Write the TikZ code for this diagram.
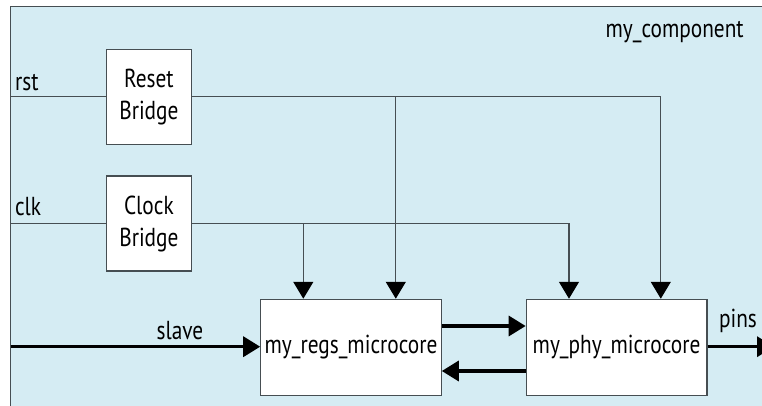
\documentclass[tikz,border=0pt]{standalone}
\usepackage{fontspec}
\setmainfont[FakeStretch=0.82]{PT Sans}
\usetikzlibrary{arrows.meta}

\definecolor{compfill}{RGB}{213,236,243}
\definecolor{wiregray}{RGB}{70,78,82}

\tikzset{every picture/.style={line width=1.2pt}}
\tikzset{
  wire/.style={draw=wiregray,line width=1.3pt},
  bus/.style={draw=black,line width=3.4pt},
  tip/.style={-{Triangle[length=17pt,width=20pt,color=black]}},
  block/.style={draw=wiregray,fill=white,line width=1.1pt,inner sep=0pt,align=center,
    font=\fontsize{26}{32}\selectfont},
  lbl/.style={inner sep=0pt,font=\fontsize{26}{32}\selectfont}
}

\begin{document}
\begin{tikzpicture}[x=1pt,y=-1pt]
\useasboundingbox (0,0) rectangle (762,406);

%Shape: Rectangle -- the component
\fill[compfill] (10.7,6.3) rectangle (762,406);
\draw[wire] (10.7,406) -- (10.7,6.3) -- (762,6.3);
\node[lbl,anchor=base east] (comp) at (744.3,37.3) {my\_component};

%Shape: Rectangle -- bridges
\node[block,minimum width=84.3pt,minimum height=95pt] (reset) at (148.9,96.8) {Reset\\Bridge};
\node[block,minimum width=84.3pt,minimum height=95pt] (clock) at (148.9,223.5) {Clock\\Bridge};

%Shape: Rectangle -- microcores
\node[block,minimum width=180.5pt,minimum height=96pt] (regs) at (351,347.3) {my\_regs\_microcore};
\node[block,minimum width=180.8pt,minimum height=96pt] (phy) at (616.6,347.3) {my\_phy\_microcore};

%ports and taps
\coordinate (rstin) at (10.7,96.8);
\coordinate (clkin) at (10.7,223.5);
\coordinate (slavein) at (10.7,346.7);
\coordinate (pinsout) at (774,346.7);
\coordinate (regsclk) at (303.3,0 |- regs.north);
\coordinate (regsrst) at (395.8,0 |- regs.north);
\coordinate (phyclk) at (569,0 |- phy.north);
\coordinate (phyrst) at (660.8,0 |- phy.north);

%Shape: Lines -- reset and clock
\draw[wire] (rstin) -- (reset.west);
\draw[wire,tip] (reset.east) -| (phyrst);
\draw[wire,tip] (regsrst |- reset.east) -- (regsrst);
\draw[wire] (clkin) -- (clock.west);
\draw[wire,tip] (clock.east) -| (phyclk);
\draw[wire,tip] (regsclk |- clock.east) -- (regsclk);

%Shape: Lines -- buses
\draw[bus,tip] (slavein) -- (slavein -| regs.west);
\draw[bus,tip] ([yshift=21.3pt]regs.east) -- ([yshift=21.3pt]phy.west);
\draw[bus,tip] ([yshift=-23.7pt]phy.west) -- ([yshift=-23.7pt]regs.east);
\draw[bus,tip] (pinsout -| phy.east) -- (pinsout);

%labels
\node[lbl,anchor=base west] (rstlbl) at (14.5,90.7) {rst};
\node[lbl,anchor=base west] (clklbl) at (14.5,215) {clk};
\node[lbl,anchor=base] (slavelbl) at (180,339) {slave};
\node[lbl,anchor=base] (pinslbl) at (738,327) {pins};

\end{tikzpicture}
\end{document}
